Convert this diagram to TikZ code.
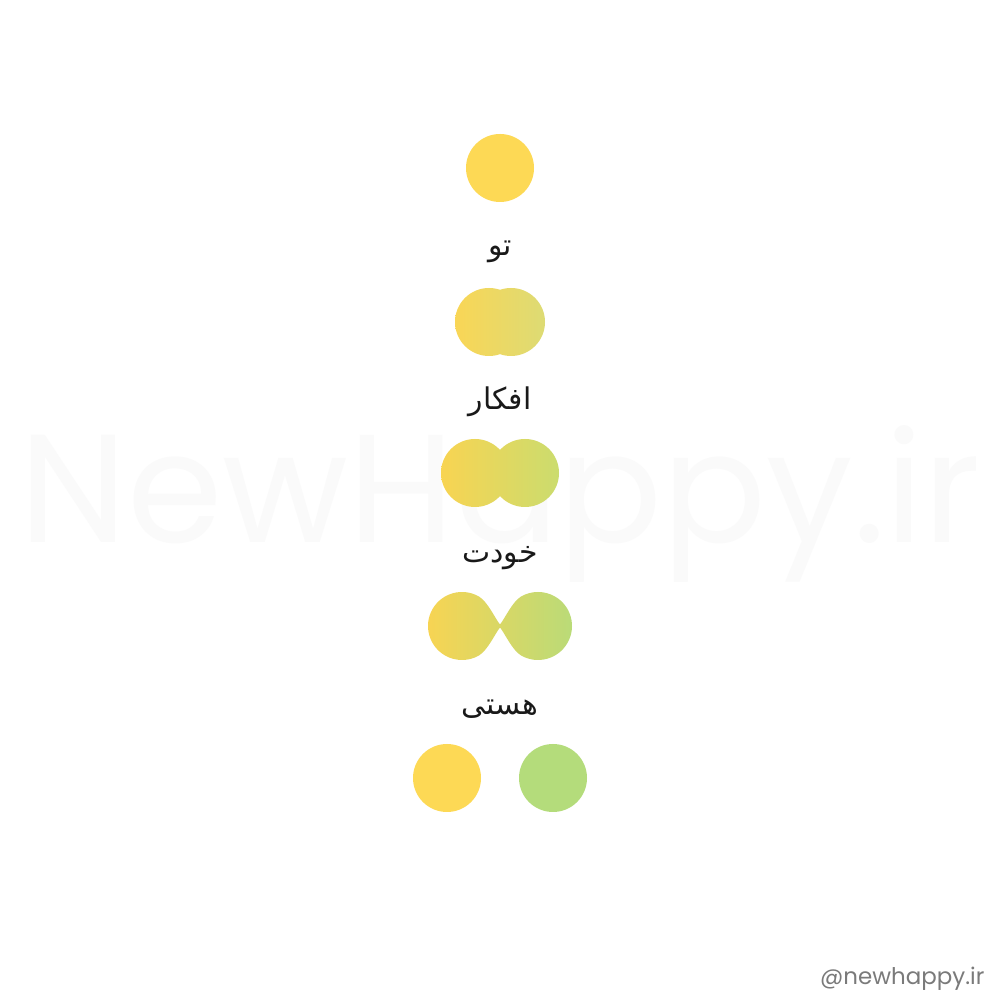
\documentclass[tikz,border=0pt]{standalone}
\usepackage{fontspec}
\newfontfamily\fafont[Script=Arabic]{DejaVu Sans}
\newfontfamily\wmfont{Poppins}
\TeXXeTstate=1
\definecolor{ylw}{HTML}{FDD955}
\definecolor{grn}{HTML}{B4DC7B}
\definecolor{twoL}{HTML}{F9D656}
\definecolor{twoR}{HTML}{DDDB74}
\definecolor{threeL}{HTML}{F8D452}
\definecolor{threeR}{HTML}{CBDC6E}
\definecolor{fourL}{HTML}{F9D452}
\definecolor{fourR}{HTML}{B8DB79}
\definecolor{wmfill}{HTML}{FAFAFA}
\definecolor{handle}{HTML}{7A7A7A}
\tikzset{
  fa/.style={font=\fafont\fontsize{8.5}{10}\selectfont, inner sep=0pt, text=black!90},
}
\begin{document}
\begin{tikzpicture}[x=0.01cm,y=0.01cm]
\useasboundingbox (0,0) rectangle (1000,1000);
\fill[white] (0,0) rectangle (1000,1000);
% watermark
\node[text=wmfill, inner sep=0pt, anchor=base] (wm) at (500,457) {\resizebox{9.6cm}{!}{\wmfont NewHappy.ir}};
% row 1
\fill[ylw] (500,832) circle[radius=34];
\node[fa] (t1) at (500,748) {\beginR تو\endR};
% row 2
\shade[left color=twoL, right color=twoR] (489,678) circle[radius=34] (511,678) circle[radius=34];
\node[fa] (t2) at (500,598) {\beginR افکار\endR};
% row 3
\shade[left color=threeL, right color=threeR] (475,527) circle[radius=34] (525,527) circle[radius=34];
\node[fa] (t3) at (500,442) {\beginR خودت\endR};
% row 4
\shade[left color=fourL, right color=fourR]
  (479,403.44) arc[start angle=60, end angle=300, radius=34]
  .. controls (487.7,349.6) and (496,368) .. (500,372.5)
  .. controls (504,368) and (512.3,349.6) .. (521,344.56)
  arc[start angle=240, end angle=480, radius=34]
  .. controls (512.3,398.4) and (504,380) .. (500,375.5)
  .. controls (496,380) and (487.7,398.4) .. (479,403.44) -- cycle;
\node[fa] (t4) at (500,291) {\beginR هستی\endR};
% row 5
\fill[ylw] (447,222) circle[radius=34];
\fill[grn] (553,222) circle[radius=34];
% handle
\node[text=handle, inner sep=0pt, anchor=base east] (hd) at (985,15) {\resizebox{1.64cm}{!}{\wmfont @newhappy.ir}};
\end{tikzpicture}
\end{document}
